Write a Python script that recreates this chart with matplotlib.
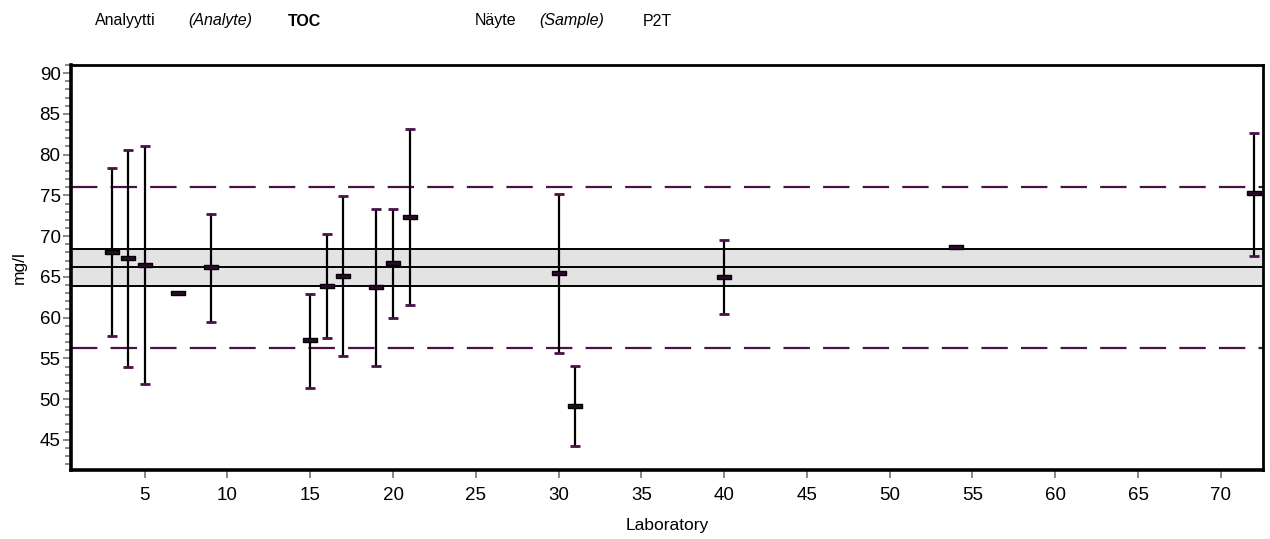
import matplotlib
matplotlib.use("Agg")
import matplotlib.pyplot as plt
from matplotlib.ticker import MultipleLocator, FixedLocator

plt.rcParams['font.family'] = ['Liberation Sans', 'DejaVu Sans']
plt.rcParams['lines.scale_dashes'] = False

# ---- data ----
labs = [3, 4, 5, 7, 9, 15, 16, 17, 19, 20, 21, 30, 31, 40, 54, 72]
values = [68.1, 67.35, 66.4, 63.0, 66.2, 57.3, 63.9, 65.15, 63.7, 66.65, 72.3, 65.45, 49.2, 64.95, 68.65, 75.25]
upper = [78.4, 80.6, 81.1, None, 72.75, 62.9, 70.3, 74.95, 73.3, 73.3, 83.1, 75.2, 54.1, 69.5, None, 82.7]
lower = [57.75, 53.9, 51.9, None, 59.5, 51.4, 57.55, 55.35, 54.1, 60.0, 61.5, 55.6, 44.2, 60.5, None, 67.6]

assigned = 66.2
band_low = 63.9
band_high = 68.4
limit_low = 56.3
limit_high = 76.0

x_ticks = [5, 10, 15, 20, 25, 30, 35, 40, 45, 50, 55, 60, 65, 70]
y_ticks = [45, 50, 55, 60, 65, 70, 75, 80, 85, 90]

W, H = 1270, 539
fig = plt.figure(figsize=(W / 100, H / 100), dpi=100)
ax = fig.add_axes([71 / W, 1 - 470 / H, (1263 - 71) / W, (470 - 65) / H])
ax.set_xlim(0.55, 72.55)
ax.set_ylim(41.3, 91.0)

purple = '#4a1048'

# band
ax.axhspan(band_low, band_high, facecolor='#e3e3e3', edgecolor='none', zorder=1)
for yv in (band_low, assigned, band_high):
    ax.axhline(yv, color='black', lw=1.4, zorder=2)

# limits
for yv in (limit_low, limit_high):
    ax.axhline(yv, color=purple, lw=1.6, dashes=(19, 9.5), zorder=2)

# error bars
for x, v, u, l in zip(labs, values, upper, lower):
    if u is None:
        continue
    ax.vlines(x, l, u, color='black', lw=1.6, zorder=3)
    ax.plot([x], [u], marker='_', markersize=7.5, mew=2.0, color=purple, zorder=4, clip_on=False)
    ax.plot([x], [l], marker='_', markersize=7.5, mew=2.0, color=purple, zorder=4, clip_on=False)

# value markers (horizontal rectangles)
rect = [(-1.3, -0.45), (1.3, -0.45), (1.3, 0.45), (-1.3, 0.45), (-1.3, -0.45)]
ax.scatter(labs, values, marker=rect, s=100, facecolor='#2b0a2b', edgecolor='black',
           linewidths=1.0, zorder=5)

# spines
for side, lw in (('left', 2.6), ('bottom', 2.6), ('top', 2.0), ('right', 2.0)):
    ax.spines[side].set_linewidth(lw)
    ax.spines[side].set_color('black')

ax.xaxis.set_major_locator(FixedLocator(x_ticks))
ax.yaxis.set_major_locator(FixedLocator(y_ticks))
ax.yaxis.set_minor_locator(MultipleLocator(1))
ax.tick_params(axis='x', which='major', direction='out', length=6, width=1.4,
               color='#888888', labelsize=13.5, pad=6.5)
ax.tick_params(axis='y', which='major', direction='out', length=6, width=1.4,
               color='#888888', labelsize=13.5, pad=1.5)
ax.tick_params(axis='y', which='minor', direction='out', length=4, width=1.4,
               color='#888888')
ax.tick_params(axis='x', which='minor', length=0)

ax.set_xlabel('Laboratory', fontsize=12.5, labelpad=10)
ax.set_ylabel('mg/l', fontsize=12.5, labelpad=9)

# header
ty = 1 - 21 / H
fs = 11.5
fig.text(95 / W, ty, 'Analyytti', fontsize=fs, va='center')
fig.text(188 / W, ty, '(Analyte)', fontsize=fs, style='italic', va='center')
fig.text(288 / W, ty, 'TOC', fontsize=fs, weight='bold', va='center')
fig.text(475 / W, ty, 'Näyte', fontsize=fs, va='center')
fig.text(539 / W, ty, '(Sample)', fontsize=fs, style='italic', va='center')
fig.text(643 / W, ty, 'P2T', fontsize=fs, va='center')

fig.savefig('out.png', dpi=100)
